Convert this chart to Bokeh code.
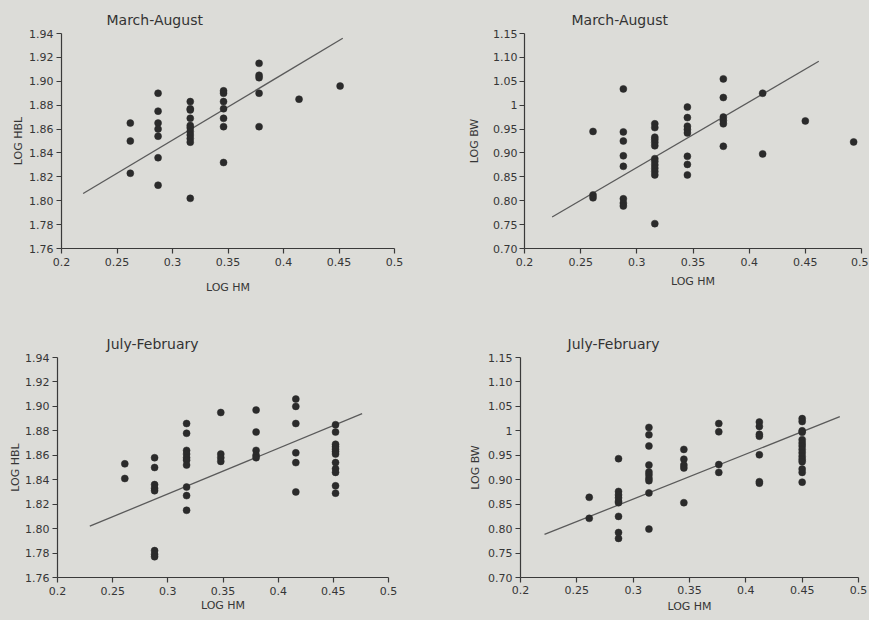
from bokeh.plotting import figure
from bokeh.layouts import column, row
from bokeh.models import Range1d, FixedTicker
from bokeh.embed import file_html
from bokeh.resources import INLINE

PAPER = "#dcdcd8"
INK = "#2b2b2b"
FONT = "DejaVu Sans"

x_ticks = [0.2, 0.25, 0.3, 0.35, 0.4, 0.45, 0.5]
x_tick_labels = ["0.2", "0.25", "0.3", "0.35", "0.4", "0.45", "0.5"]
hbl_ticks = [1.76, 1.78, 1.80, 1.82, 1.84, 1.86, 1.88, 1.90, 1.92, 1.94]
hbl_tick_labels = ["1.76", "1.78", "1.80", "1.82", "1.84", "1.86", "1.88", "1.90", "1.92", "1.94"]
bw_ticks = [0.70, 0.75, 0.80, 0.85, 0.90, 0.95, 1.0, 1.05, 1.10, 1.15]
bw_tick_labels = ["0.70", "0.75", "0.80", "0.85", "0.90", "0.95", "1", "1.05", "1.10", "1.15"]

# Panel A: March-August, LOG HBL vs LOG HM
ma_hbl_x = [0.262, 0.262, 0.262,
            0.287, 0.287, 0.287, 0.287, 0.287, 0.287, 0.287,
            0.316, 0.316, 0.316, 0.316, 0.316, 0.316, 0.316, 0.316, 0.316, 0.316, 0.316,
            0.346, 0.346, 0.346, 0.346, 0.346, 0.346, 0.346,
            0.378, 0.378, 0.378, 0.378, 0.378,
            0.414, 0.451]
ma_hbl_y = [1.865, 1.850, 1.823,
            1.890, 1.875, 1.865, 1.860, 1.854, 1.836, 1.813,
            1.883, 1.877, 1.876, 1.869, 1.863, 1.861, 1.858, 1.855, 1.852, 1.849, 1.802,
            1.892, 1.890, 1.883, 1.877, 1.869, 1.862, 1.832,
            1.915, 1.905, 1.903, 1.890, 1.862,
            1.885, 1.896]
ma_hbl_fit_x = [0.2195, 0.4534]
ma_hbl_fit_y = [1.806, 1.936]

# Panel B: March-August, LOG BW vs LOG HM
ma_bw_x = [0.261, 0.261, 0.261,
           0.288, 0.288, 0.288, 0.288, 0.288, 0.288, 0.288, 0.288,
           0.316, 0.316, 0.316, 0.316, 0.316, 0.316, 0.316, 0.316, 0.316, 0.316, 0.316, 0.316, 0.316,
           0.345, 0.345, 0.345, 0.345, 0.345, 0.345, 0.345, 0.345,
           0.377, 0.377, 0.377, 0.377, 0.377, 0.377,
           0.412, 0.412, 0.450, 0.493]
ma_bw_y = [0.945, 0.812, 0.806,
           1.034, 0.944, 0.925, 0.894, 0.872, 0.804, 0.795, 0.789,
           0.961, 0.953, 0.933, 0.928, 0.922, 0.915, 0.888, 0.882, 0.875, 0.868, 0.861, 0.854, 0.752,
           0.996, 0.974, 0.956, 0.949, 0.942, 0.893, 0.876, 0.854,
           1.055, 1.016, 0.975, 0.968, 0.961, 0.914,
           1.025, 0.898, 0.967, 0.923]
ma_bw_fit_x = [0.2246, 0.462]
ma_bw_fit_y = [0.766, 1.092]

# Panel C: July-February, LOG HBL vs LOG HM
jf_hbl_x = [0.261, 0.261,
            0.288, 0.288, 0.288, 0.288, 0.288, 0.288, 0.288, 0.288,
            0.317, 0.317, 0.317, 0.317, 0.317, 0.317, 0.317, 0.317, 0.317, 0.317,
            0.348, 0.348, 0.348, 0.348,
            0.380, 0.380, 0.380, 0.380, 0.380,
            0.416, 0.416, 0.416, 0.416, 0.416, 0.416,
            0.452, 0.452, 0.452, 0.452, 0.452, 0.452, 0.452, 0.452, 0.452, 0.452, 0.452, 0.452]
jf_hbl_y = [1.853, 1.841,
            1.858, 1.850, 1.836, 1.833, 1.831, 1.782, 1.779, 1.777,
            1.886, 1.878, 1.864, 1.861, 1.858, 1.856, 1.852, 1.834, 1.827, 1.815,
            1.895, 1.861, 1.858, 1.855,
            1.897, 1.879, 1.864, 1.860, 1.858,
            1.906, 1.900, 1.886, 1.862, 1.854, 1.830,
            1.885, 1.879, 1.869, 1.867, 1.865, 1.863, 1.861, 1.854, 1.849, 1.846, 1.835, 1.829]
jf_hbl_fit_x = [0.2293, 0.4761]
jf_hbl_fit_y = [1.802, 1.894]

# Panel D: July-February, LOG BW vs LOG HM
jf_bw_x = [0.261, 0.261,
           0.287, 0.287, 0.287, 0.287, 0.287, 0.287, 0.287, 0.287, 0.287,
           0.314, 0.314, 0.314, 0.314, 0.314, 0.314, 0.314, 0.314, 0.314, 0.314,
           0.345, 0.345, 0.345, 0.345, 0.345,
           0.376, 0.376, 0.376, 0.376,
           0.412, 0.412, 0.412, 0.412, 0.412, 0.412, 0.412,
           0.450, 0.450, 0.450, 0.450, 0.450, 0.450, 0.450, 0.450, 0.450, 0.450, 0.450, 0.450, 0.450, 0.450, 0.450]
jf_bw_y = [0.864, 0.821,
           0.943, 0.876, 0.869, 0.863, 0.856, 0.853, 0.825, 0.792, 0.780,
           1.007, 0.992, 0.969, 0.930, 0.916, 0.910, 0.903, 0.898, 0.873, 0.799,
           0.962, 0.942, 0.930, 0.924, 0.853,
           1.015, 0.998, 0.931, 0.915,
           1.018, 1.009, 0.993, 0.989, 0.951, 0.896, 0.893,
           1.025, 1.019, 1.000, 0.997, 0.982, 0.975, 0.969, 0.962, 0.955, 0.948, 0.942, 0.937, 0.922, 0.915, 0.895]
jf_bw_fit_x = [0.2213, 0.4834]
jf_bw_fit_y = [0.788, 1.029]


def make_panel(title, ylabel, xs, ys, fx, fy, yr, yticks, ylabels,
               width, height, left, right, top, bottom, title_offset,
               x_lab_so, x_ax_so, y_lab_so, y_ax_so):
    p = figure(width=width, height=height, x_range=Range1d(0.2, 0.5),
               y_range=Range1d(*yr), output_backend="svg", toolbar_location=None,
               min_border_left=left, min_border_right=right,
               min_border_top=top, min_border_bottom=bottom)
    p.background_fill_color = PAPER
    p.border_fill_color = PAPER
    p.outline_line_color = None
    p.xgrid.visible = False
    p.ygrid.visible = False

    p.title.text = title
    p.title.align = "left"
    p.title.offset = title_offset
    p.title.standoff = 12
    p.title.text_font = FONT
    p.title.text_font_size = "14px"
    p.title.text_font_style = "normal"
    p.title.text_color = "#333333"

    for ax in (p.xaxis[0], p.yaxis[0]):
        ax.axis_line_color = "#3a3a3a"
        ax.axis_line_width = 1.2
        ax.major_tick_line_color = "#3a3a3a"
        ax.major_tick_line_width = 1.2
        ax.major_tick_in = 0
        ax.major_tick_out = 5
        ax.minor_tick_line_color = None
        ax.major_label_text_font = FONT
        ax.major_label_text_font_size = "11px"
        ax.major_label_text_color = "#363636"
        ax.axis_label_text_font = FONT
        ax.axis_label_text_font_size = "11px"
        ax.axis_label_text_font_style = "normal"
        ax.axis_label_text_color = "#363636"

    p.xaxis.ticker = FixedTicker(ticks=x_ticks)
    p.xaxis.major_label_overrides = dict(zip(x_ticks, x_tick_labels))
    p.yaxis.ticker = FixedTicker(ticks=yticks)
    p.yaxis.major_label_overrides = dict(zip(yticks, ylabels))
    p.xaxis.axis_label = "LOG HM"
    p.yaxis.axis_label = ylabel
    p.xaxis.major_label_standoff = x_lab_so
    p.xaxis.axis_label_standoff = x_ax_so
    p.yaxis.major_label_standoff = y_lab_so
    p.yaxis.axis_label_standoff = y_ax_so

    p.line(fx, fy, line_color="#5a5a5a", line_width=1.3)
    p.scatter(xs, ys, size=7, fill_color=INK, line_color=INK, line_width=0.5)
    return p


p1 = make_panel("March-August", "LOG HBL", ma_hbl_x, ma_hbl_y, ma_hbl_fit_x, ma_hbl_fit_y,
                (1.76, 1.94), hbl_ticks, hbl_tick_labels,
                430, 300, 61, 36, 30, 52, 45, 4, 12, 3, 1)
p2 = make_panel("March-August", "LOG BW", ma_bw_x, ma_bw_y, ma_bw_fit_x, ma_bw_fit_y,
                (0.70, 1.15), bw_ticks, bw_tick_labels,
                438, 300, 94, 7, 33, 50, 47, 4, 6, 2, 9)
p3 = make_panel("July-February", "LOG HBL", jf_hbl_x, jf_hbl_y, jf_hbl_fit_x, jf_hbl_fit_y,
                (1.76, 1.94), hbl_ticks, hbl_tick_labels,
                430, 319, 57, 42, 52, 42, 49, 4, 1, 3, 0)
p4 = make_panel("July-February", "LOG BW", jf_bw_x, jf_bw_y, jf_bw_fit_x, jf_bw_fit_y,
                (0.70, 1.15), bw_ticks, bw_tick_labels,
                438, 319, 90, 10, 57, 38, 47, 3, 3, 3, 3)

layout = column(row(p1, p2), row(p3, p4))
html = file_html(layout, INLINE)
style = "<style>html, body { background-color: %s; }</style>" % PAPER
html = html.replace("</head>", style + "\n</head>", 1)
open("out.html", "w").write(html)
